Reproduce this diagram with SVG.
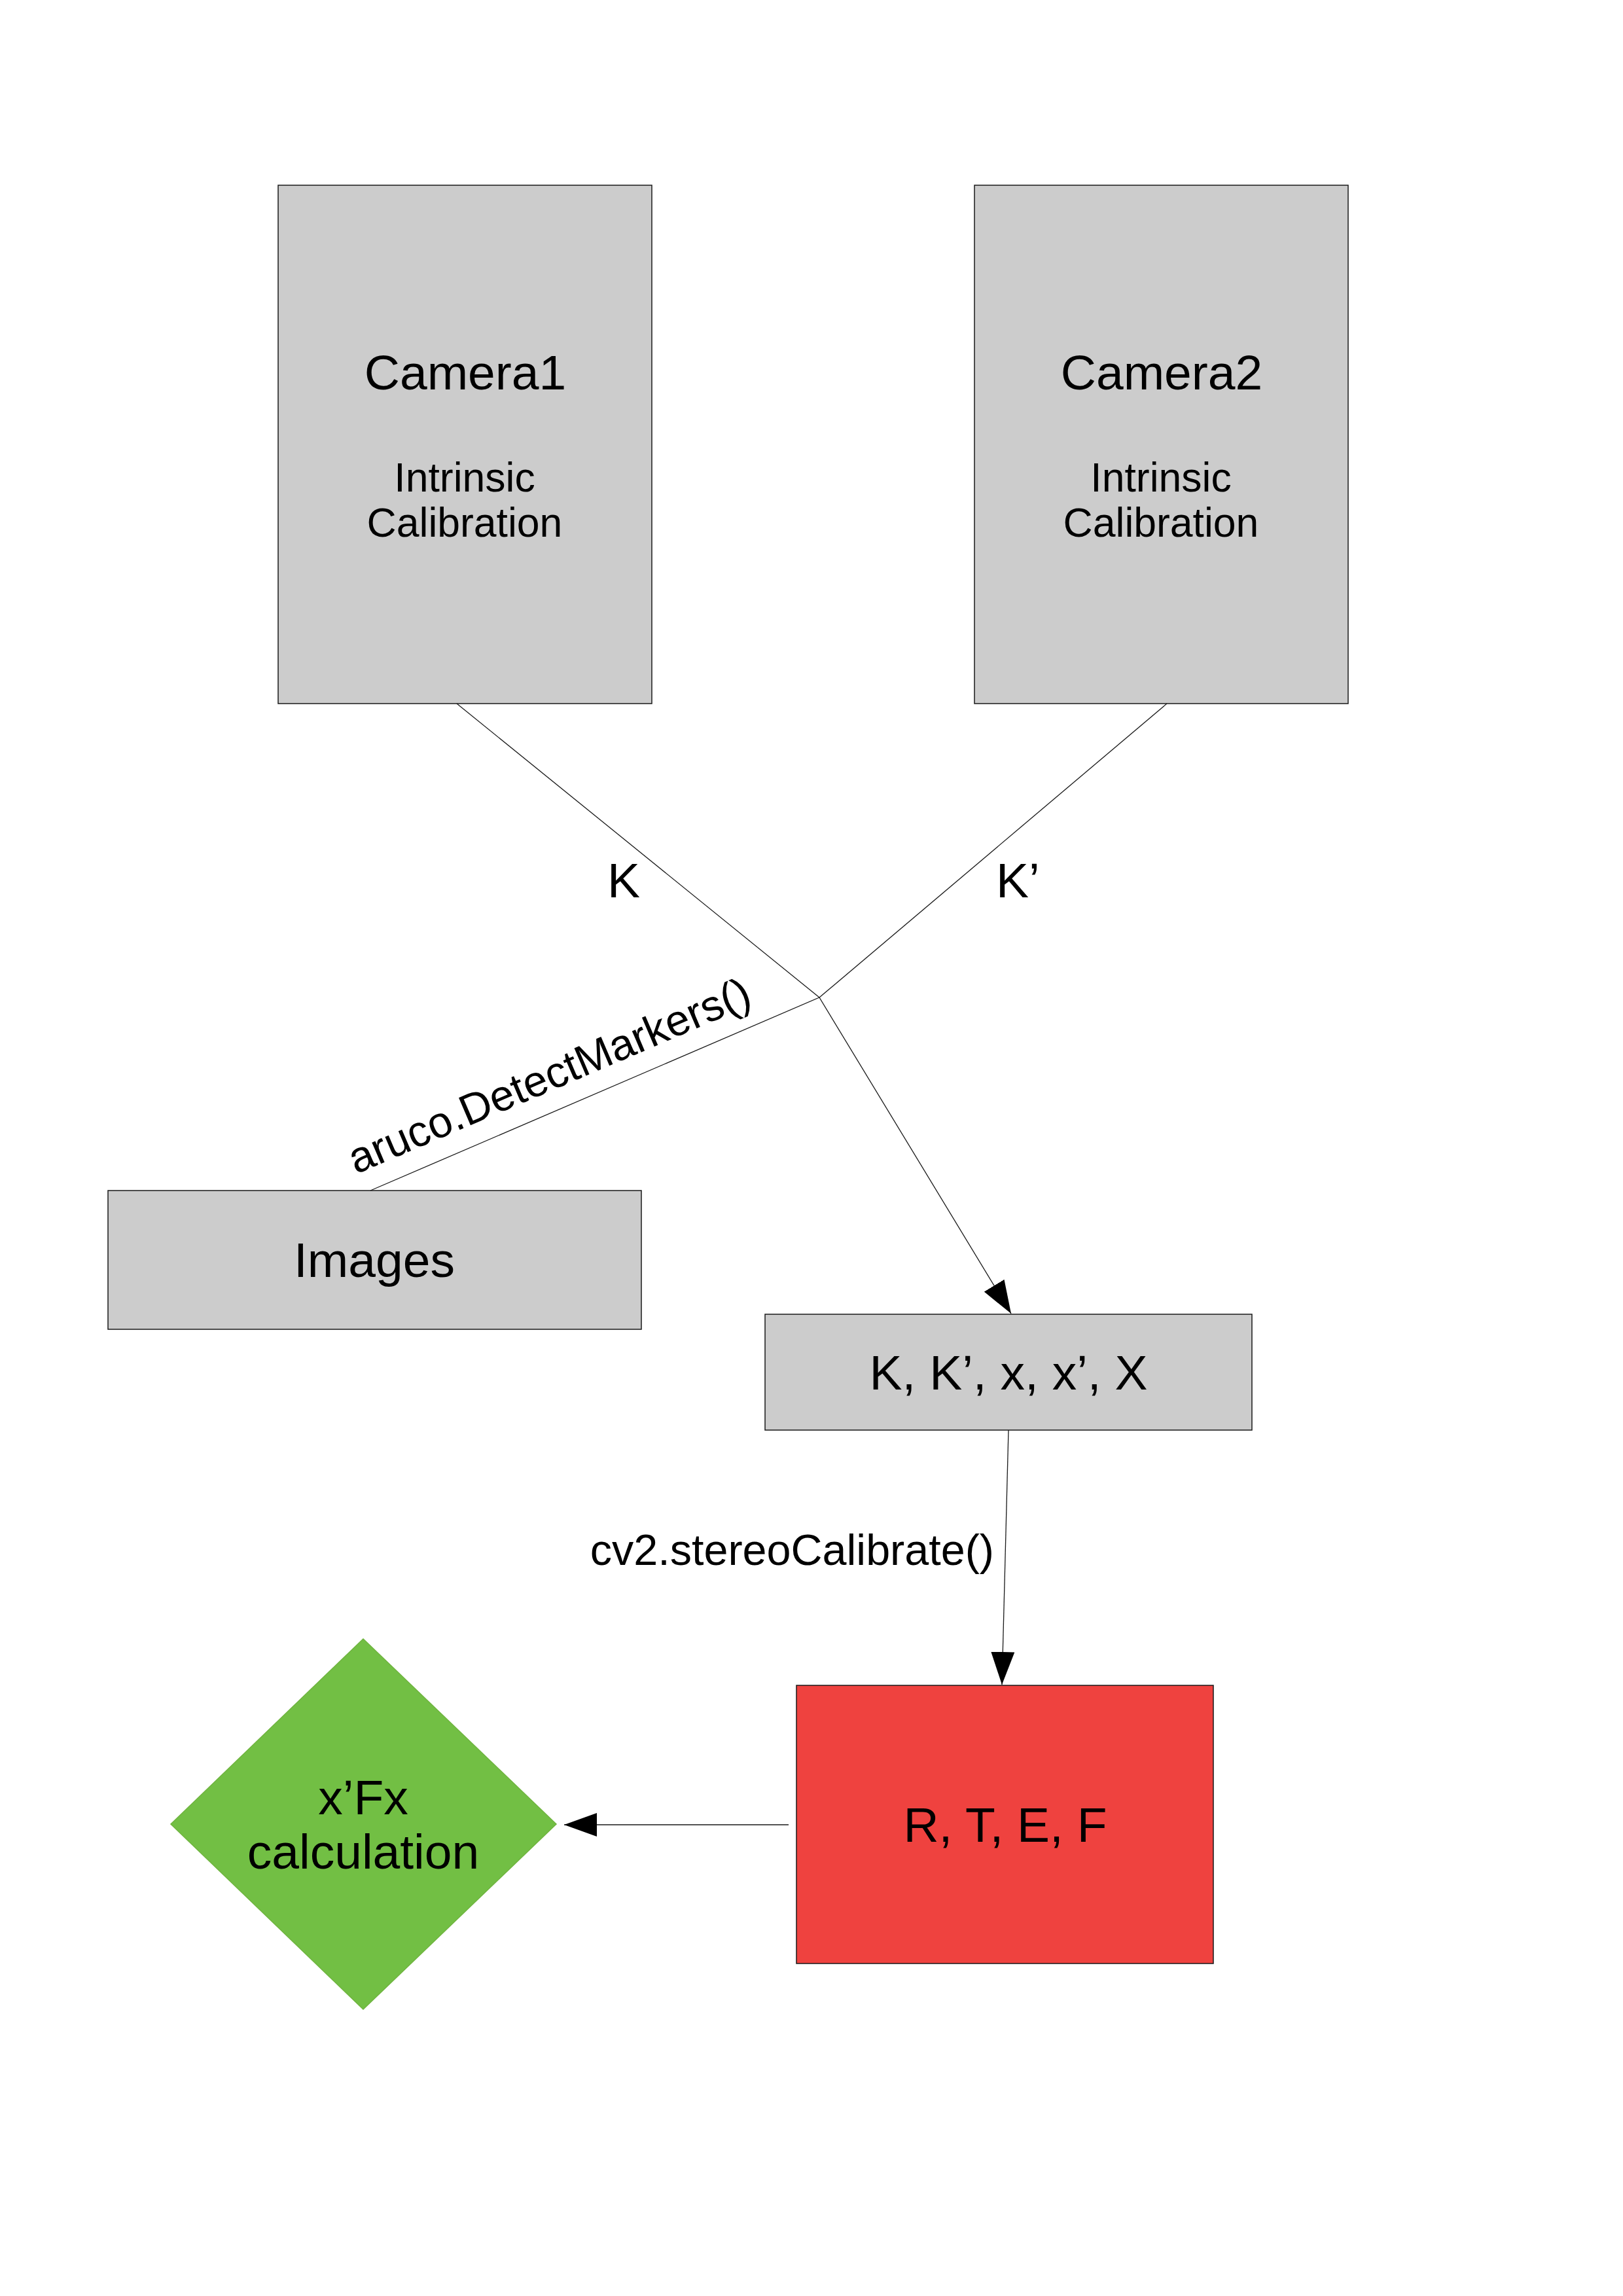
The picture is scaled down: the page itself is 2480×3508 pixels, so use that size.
<svg xmlns="http://www.w3.org/2000/svg" width="2480" height="3508" viewBox="0 0 2480 3508">
<style>
text{font-family:"Liberation Sans",Arial,sans-serif;fill:#000}
.box{fill:#cccccc;stroke:#1a1a1a;stroke-width:1.5}
.red{fill:#ef423f;stroke:#1a1a1a;stroke-width:1.5}
.dia{fill:#72bf44;stroke:#6fb43f;stroke-width:1.5}
.con{fill:none;stroke:#1a1a1a;stroke-width:1.3}
.t75{font-size:75px;text-anchor:middle}
.t62{font-size:62.5px;text-anchor:middle}
.lbl{font-size:75px}
.lbl2{font-size:66.5px}
</style>
<defs>
<marker id="arrow" markerUnits="userSpaceOnUse" viewBox="0 0 50 36" markerWidth="50" markerHeight="36" refX="50" refY="18" orient="auto">
<path d="M0,0 L50,18 L0,36 Z" fill="#000"/>
</marker>
</defs>
<rect width="2480" height="3508" fill="#ffffff"/>
<g id="camera1">
<rect class="box" x="425" y="283" width="571" height="792"/>
<text class="t75" x="711" y="595">Camera1</text>
<text class="t62" x="710" y="751">Intrinsic</text>
<text class="t62" x="710" y="820">Calibration</text>
</g>
<g id="camera2">
<rect class="box" x="1489" y="283" width="571" height="792"/>
<text class="t75" x="1775" y="595">Camera2</text>
<text class="t62" x="1774" y="751">Intrinsic</text>
<text class="t62" x="1774" y="820">Calibration</text>
</g>
<g id="images">
<rect class="box" x="165" y="1819" width="815" height="212"/>
<text class="t75" x="572" y="1951">Images</text>
</g>
<g id="params">
<rect class="box" x="1169" y="2008" width="744" height="177"/>
<text class="t75" x="1541" y="2123">K, K’, x, x’, X</text>
</g>
<g id="rtef">
<rect class="red" x="1217" y="2575" width="637" height="425"/>
<text class="t75" x="1536" y="2814">R, T, E, F</text>
</g>
<g id="xfx">
<polygon class="dia" points="555,2504 850,2787 555,3070 261,2787"/>
<text class="t75" x="555" y="2772">x’Fx</text>
<text class="t75" x="555" y="2855">calculation</text>
</g>
<g id="connectors">
<line class="con" x1="698" y1="1075" x2="1252" y2="1524"/>
<line class="con" x1="1783" y1="1075" x2="1252" y2="1524"/>
<line class="con" x1="566" y1="1819" x2="1252" y2="1524"/>
<line class="con" x1="1252" y1="1524" x2="1545" y2="2007" marker-end="url(#arrow)"/>
<line class="con" x1="1541" y1="2185" x2="1531" y2="2574" marker-end="url(#arrow)"/>
<line class="con" x1="1205" y1="2788" x2="862" y2="2788" marker-end="url(#arrow)"/>
<text class="lbl" x="928" y="1371">K</text>
<text class="lbl" x="1522" y="1371">K’</text>
<text class="lbl2" x="848" y="1664" text-anchor="middle" transform="rotate(-23.2 848 1664)">aruco.DetectMarkers()</text>
<text class="lbl2" x="1519" y="2391" text-anchor="end">cv2.stereoCalibrate()</text>
</g>
</svg>
